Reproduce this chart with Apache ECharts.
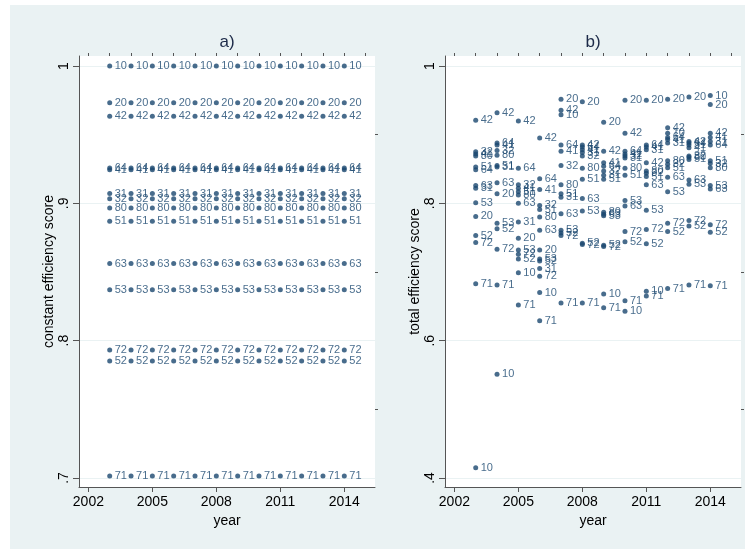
<!DOCTYPE html>
<html><head><meta charset="utf-8">
<script src="https://cdn.jsdelivr.net/npm/echarts@6/dist/echarts.min.js"></script>
<style>
html,body{margin:0;padding:0;background:#fff}
#wrap{position:relative;width:755px;height:554px;background:#fff}
#bg{position:absolute;left:10px;top:5px;width:735px;height:544px;background:#eaf2f3}
#c{position:absolute;left:0;top:0;width:755px;height:554px}
</style>
</head><body>
<div id="wrap"><div id="bg"></div><div id="c"></div></div>
<script>
// ---- data ----
const years = [2003, 2004, 2005, 2006, 2007, 2008, 2009, 2010, 2011, 2012, 2013, 2014];
const xTickLabels = [2002, 2005, 2008, 2011, 2014];
const xMinorTicks = [2002, 2003, 2004, 2005, 2006, 2007, 2008, 2009, 2010, 2011, 2012, 2013, 2014, 2015];
const yTicksA = [0.7, 0.8, 0.9, 1];
const yMinorA = [0.75, 0.85, 0.95];
const yTicksB = [0.4, 0.6, 0.8, 1];
const yMinorB = [0.5, 0.7, 0.9];

const units = ['10', '20', '31', '32', '41', '42', '51', '52', '53', '63', '64', '71', '72', '80'];
// panel a: constant efficiency score per unit (same every year)
const constantScore = [1.000, 0.9733, 0.9071, 0.9034, 0.9245, 0.9634, 0.8869, 0.7851, 0.8371, 0.8561, 0.9258, 0.7015, 0.7932, 0.8966];

// panel b: total efficiency score per unit, 2003..2014 (null = not visible)
const total10 = [0.415, 0.551, 0.699, 0.670, 0.929, null, 0.668, 0.643, 0.672, 0.902, null, 0.957];
const total20 = [0.781, 0.814, 0.749, 0.732, 0.9515, 0.948, 0.918, 0.950, 0.950, 0.9515, 0.955, 0.944];
const total31 = [0.822, 0.853, 0.773, 0.705, 0.809, 0.874, 0.841, 0.866, 0.878, 0.888, 0.885, 0.890];
const total32 = [0.875, 0.877, 0.827, 0.797, 0.855, 0.869, 0.847, 0.869, 0.844, 0.857, 0.869, 0.858];
const total41 = [0.872, 0.885, 0.822, 0.820, 0.876, 0.878, 0.859, 0.872, 0.882, 0.893, 0.881, 0.896];
const total42 = [0.921, 0.932, 0.920, 0.895, 0.9355, 0.885, 0.876, 0.902, 0.859, 0.910, 0.890, 0.902];
const total51 = [0.853, 0.855, 0.817, 0.791, 0.814, 0.835, 0.835, 0.841, 0.839, 0.852, 0.864, 0.862];
const total52 = [0.753, 0.763, 0.719, 0.716, 0.757, 0.742, 0.739, 0.744, 0.741, 0.759, 0.767, 0.758];
const total53 = [0.801, 0.771, 0.732, 0.719, 0.761, 0.789, 0.782, 0.804, 0.790, 0.817, 0.828, 0.826];
const total63 = [0.826, 0.830, 0.800, 0.761, 0.785, 0.807, 0.784, 0.796, 0.827, 0.838, 0.834, 0.821];
const total64 = [0.849, 0.888, 0.851, 0.836, 0.885, 0.882, 0.854, 0.876, 0.885, 0.896, 0.888, 0.885];
const total71 = [0.683, 0.681, 0.652, 0.629, 0.655, 0.655, 0.648, 0.658, 0.665, 0.676, 0.681, 0.680];
const total72 = [0.743, 0.733, 0.726, 0.694, 0.753, 0.740, 0.737, 0.759, 0.762, 0.771, 0.775, 0.769];
const total80 = [0.869, 0.870, 0.812, 0.780, 0.827, 0.851, 0.787, 0.851, 0.847, 0.862, 0.867, 0.852];
const totalScore = [total10, total20, total31, total32, total41, total42, total51, total52, total53, total63, total64, total71, total72, total80];

// ---- build ----
const NAVY = '#1a476f';
const FONT = '"Liberation Sans", Arial, sans-serif';
const dataA = [], dataB = [];
units.forEach((u, i) => {
  years.forEach((y, j) => {
    dataA.push({ name: u, value: [y, constantScore[i]] });
    const v = totalScore[i][j];
    if (v !== null) dataB.push({ name: u, value: [y, v] });
  });
});
const fmtY = v => (Math.abs(v - 1) < 1e-9 ? '1' : String(+v.toFixed(2)).replace(/^0\./, '.'));

function xAxes(grid) {
  return [{
    gridIndex: grid, type: 'value', min: 2001.56, max: 2015.44,
    axisLine: { show: true, lineStyle: { color: '#555', width: 1 } },
    axisTick: { show: true, customValues: xTickLabels, length: 5, lineStyle: { color: '#555' } },
    axisLabel: { show: true, customValues: xTickLabels, formatter: v => String(v), color: '#000', fontSize: 14, fontFamily: FONT, margin: 8 },
    splitLine: { show: false },
    name: 'year', nameLocation: 'middle', nameGap: 22,
    nameTextStyle: { color: '#000', fontSize: 14, fontFamily: FONT }
  }, {
    gridIndex: grid, type: 'value', min: 2001.56, max: 2015.44,
    axisLine: { show: false },
    axisTick: { show: true, customValues: xMinorTicks, length: 3, lineStyle: { color: '#555' } },
    axisLabel: { show: false }, splitLine: { show: false }
  }];
}
function yAxes(grid, min, max, ticks, minor, name) {
  return [{
    gridIndex: grid, type: 'value', min: min, max: max,
    axisLine: { show: true, lineStyle: { color: '#555', width: 1 } },
    axisTick: { show: true, customValues: ticks, length: 6, lineStyle: { color: '#555' } },
    axisLabel: { show: true, customValues: ticks, formatter: fmtY, rotate: 90, color: '#000', fontSize: 14, fontFamily: FONT, margin: 8 },
    splitLine: { show: true, lineStyle: { color: '#eaf2f3', width: 1.2 } },
    name: name, nameLocation: 'middle', nameGap: 22,
    nameTextStyle: { color: '#000', fontSize: 14, fontFamily: FONT }
  }, {
    gridIndex: grid, type: 'value', min: min, max: max,
    axisLine: { show: false },
    axisTick: { show: true, customValues: minor, length: 3, lineStyle: { color: '#555' } },
    axisLabel: { show: false }, splitLine: { show: false }
  }];
}
function scatter(xi, yi, data) {
  return {
    type: 'scatter', xAxisIndex: xi, yAxisIndex: yi, data: data,
    symbol: 'circle', symbolSize: 5, itemStyle: { color: NAVY },
    label: { show: true, position: 'right', distance: 2.5, formatter: '{b}', color: NAVY, fontSize: 11, fontFamily: FONT },
    emphasis: { disabled: true }, animation: false
  };
}

const chart = echarts.init(document.getElementById('c'), null, { renderer: 'canvas' });
chart.setOption({
  animation: false,
  grid: [
    { left: 79, top: 56, width: 296, height: 431, show: true, backgroundColor: '#fff', borderWidth: 0, containLabel: false },
    { left: 445, top: 56, width: 296, height: 431, show: true, backgroundColor: '#fff', borderWidth: 0, containLabel: false }
  ],
  xAxis: [...xAxes(0), ...xAxes(1)],
  yAxis: [
    ...yAxes(0, 0.6934, 1.0073, yTicksA, yMinorA, 'constant efficiency score'),
    ...yAxes(1, 0.3869, 1.0146, yTicksB, yMinorB, 'total efficiency score')
  ],
  graphic: [
    { type: 'text', x: 227, y: 42, style: { text: 'a)', font: '17px ' + FONT, fill: '#1c2a48', textAlign: 'center', textVerticalAlign: 'middle' } },
    { type: 'text', x: 593, y: 42, style: { text: 'b)', font: '17px ' + FONT, fill: '#1c2a48', textAlign: 'center', textVerticalAlign: 'middle' } }
  ],
  series: [scatter(0, 0, dataA), scatter(2, 2, dataB)]
});
</script>
</body></html>
